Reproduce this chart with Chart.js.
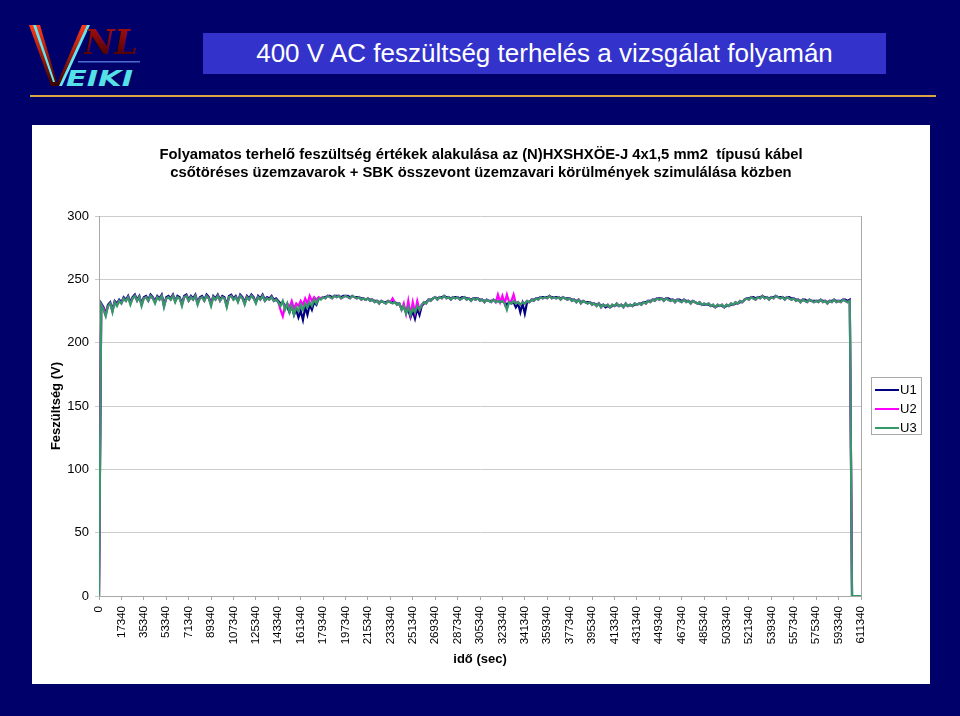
<!DOCTYPE html>
<html>
<head>
<meta charset="utf-8">
<script src="https://cdn.jsdelivr.net/npm/chart.js@4.4.0/dist/chart.umd.min.js"></script>
<style>
  html, body { margin: 0; padding: 0; }
  body {
    width: 960px; height: 716px; position: relative; overflow: hidden;
    background: #00006a;
    font-family: Arial, "Liberation Sans", sans-serif;
  }
  #logo { position: absolute; left: 0; top: 0; }
  #slideTitle {
    position: absolute; left: 203px; top: 33px; width: 683px; height: 41px;
    background: #3333cc; color: #fff; font-size: 26px; line-height: 41px; text-align: center;
  }
  #rule { position: absolute; left: 30px; top: 95px; width: 906px; height: 2px; background: #d9a443; }
  #panel { position: absolute; left: 32px; top: 125px; width: 898px; height: 559px; background: #fff; }
  #voltChart { position: absolute; left: 0; top: 0; }
  #legend {
    position: absolute; left: 839px; top: 252px; width: 49px; height: 54px;
    border: 1px solid #a8a8a8; padding-top: 2px; box-sizing: content-box;
  }
  .item { display: flex; align-items: center; height: 19px; font-size: 13px; color: #000; }
  .item span.line { display: inline-block; width: 24px; height: 2px; margin-left: 3px; margin-right: 1px; }
</style>
</head>
<body>
<svg id="logo" width="160" height="100" viewBox="0 0 160 100">
  <defs>
    <linearGradient id="redV" x1="0" y1="0" x2="0" y2="1">
      <stop offset="0" stop-color="#ff3a1a"/>
      <stop offset="1" stop-color="#3a0000"/>
    </linearGradient>
    <linearGradient id="redNL" x1="0" y1="0" x2="0" y2="1">
      <stop offset="0" stop-color="#b01010"/>
      <stop offset="1" stop-color="#3a0000"/>
    </linearGradient>
  </defs>
  <polygon points="29,25 40,25 58,86 51,86" fill="url(#redV)"/>
  <polygon points="33,25 36,25 55,82 53,82" fill="#66e8f0"/>
  <polygon points="56,86 61,86 88,25 82,25" fill="url(#redV)"/>
  <polygon points="59,86 62,86 90,25 87,25" fill="#66e8f0"/>
  <text x="84" y="54" font-family="DejaVu Serif, serif" font-weight="bold" font-style="italic" font-size="33" fill="url(#redNL)">NL</text>
  <rect x="78" y="61" width="62" height="1.5" fill="#4a6cd0"/>
  <text x="66" y="86" font-family="DejaVu Sans, sans-serif" font-weight="bold" font-style="italic" font-size="22" textLength="67" lengthAdjust="spacingAndGlyphs" fill="#55e0e8">EIKI</text>
</svg>
<div id="slideTitle">400 V AC feszültség terhelés a vizsgálat folyamán</div>
<div id="rule"></div>
<div id="panel">
  <canvas id="voltChart" width="898" height="559"></canvas>
  <div id="legend">
    <div class="item"><span class="line" style="background:#000080"></span>U1</div>
    <div class="item"><span class="line" style="background:#ff00ff"></span>U2</div>
    <div class="item"><span class="line" style="background:#339966"></span>U3</div>
  </div>
</div>
<script>
// x axis tick labels (one label every 10 samples)
const timeLabels = ['0', '17340', '35340', '53340', '71340', '89340', '107340', '125340', '143340',
  '161340', '179340', '197340', '215340', '233340', '251340', '269340', '287340', '305340',
  '323340', '341340', '359340', '377340', '395340', '413340', '431340', '449340', '467340',
  '485340', '503340', '521340', '539340', '557340', '575340', '593340', '611340'];
const samplesPerLabel = 10;

// voltage values (V)
const u1 = [
  0, 231, 228, 223, 230, 232, 226, 233, 231, 234,
  232, 236, 234, 237, 232, 236, 238, 234, 237, 231,
  236, 237, 234, 238, 236, 233, 237, 235, 238, 230,
  236, 237, 235, 238, 233, 237, 236, 231, 237, 238,
  234, 237, 235, 238, 232, 236, 237, 234, 238, 236,
  231, 237, 235, 238, 234, 237, 236, 230, 237, 238,
  235, 237, 233, 238, 236, 232, 237, 235, 238, 236,
  232, 237, 235, 238, 234, 236, 235, 237, 234, 235,
  233, 231, 232, 229, 228, 224, 229, 222, 226, 220,
  225, 218, 228, 222, 230, 226, 232, 230, 235, 235,
  236, 236, 237, 237, 236, 237, 237, 237, 236, 237,
  237, 237, 236, 237, 236, 236, 236, 235, 235, 234,
  235, 234, 234, 233, 233, 232, 233, 232, 232, 233,
  232, 232, 232, 231, 231, 227, 228, 224, 226, 220,
  225, 219, 227, 222, 229, 231, 232, 234, 234, 235,
  236, 235, 236, 236, 237, 236, 236, 235, 236, 236,
  236, 235, 236, 236, 235, 235, 234, 235, 235, 235,
  234, 234, 233, 234, 233, 233, 234, 233, 233, 232,
  233, 232, 230, 232, 231, 232, 228, 231, 224, 231,
  223, 232, 232, 234, 234, 235, 235, 236, 236, 236,
  236, 237, 236, 236, 236, 236, 235, 236, 235, 235,
  235, 234, 234, 233, 234, 232, 233, 232, 232, 232,
  231, 231, 230, 231, 229, 230, 228, 229, 228, 229,
  229, 230, 229, 230, 229, 230, 229, 230, 229, 230,
  230, 231, 231, 232, 232, 233, 233, 234, 234, 235,
  235, 235, 234, 235, 235, 234, 234, 233, 234, 234,
  233, 234, 233, 233, 232, 233, 232, 231, 231, 230,
  230, 230, 230, 229, 229, 228, 229, 229, 229, 228,
  229, 229, 230, 230, 231, 231, 232, 232, 234, 235,
  235, 236, 236, 235, 236, 236, 237, 236, 236, 235,
  236, 236, 237, 236, 236, 236, 235, 236, 236, 235,
  235, 234, 234, 233, 234, 234, 233, 234, 233, 233,
  233, 233, 234, 233, 233, 232, 233, 233, 234, 233,
  233, 233, 234, 234, 233, 234, 0, 0, 0, 0,
  0];

const u2 = [
  0, 230, 227, 222, 229, 231, 225, 232, 230, 233,
  231, 235, 233, 236, 231, 235, 237, 233, 236, 230,
  235, 236, 233, 237, 235, 232, 236, 234, 237, 229,
  235, 236, 234, 237, 233, 236, 235, 230, 236, 237,
  233, 236, 234, 237, 231, 235, 236, 233, 237, 235,
  230, 236, 234, 237, 233, 236, 235, 229, 236, 237,
  234, 236, 233, 237, 235, 231, 236, 234, 237, 235,
  232, 236, 234, 237, 233, 235, 234, 236, 233, 234,
  232, 226, 221, 229, 231, 228, 233, 227, 231, 229,
  233, 230, 235, 231, 237, 233, 236, 234, 236, 235,
  236, 235, 237, 236, 235, 237, 236, 237, 235, 236,
  237, 236, 235, 237, 236, 235, 236, 234, 235, 234,
  235, 233, 234, 232, 233, 231, 233, 232, 231, 233,
  232, 235, 232, 230, 231, 226, 231, 223, 233, 222,
  232, 224, 233, 226, 230, 232, 231, 234, 233, 235,
  236, 234, 236, 235, 237, 235, 236, 234, 236, 235,
  236, 234, 235, 236, 234, 235, 233, 235, 234, 235,
  233, 234, 232, 234, 233, 232, 234, 232, 238, 232,
  237, 231, 238, 232, 233, 238, 231, 232, 230, 232,
  231, 233, 232, 234, 233, 235, 234, 236, 235, 236,
  235, 237, 235, 236, 235, 236, 234, 236, 235, 234,
  235, 233, 234, 232, 234, 231, 233, 232, 231, 232,
  230, 231, 229, 231, 228, 230, 229, 230, 228, 230,
  229, 231, 229, 230, 228, 231, 229, 230, 229, 231,
  230, 231, 230, 232, 231, 233, 232, 234, 233, 235,
  234, 235, 233, 235, 234, 233, 234, 232, 234, 233,
  232, 234, 232, 233, 231, 233, 232, 231, 232, 230,
  231, 230, 231, 229, 230, 228, 230, 229, 230, 228,
  230, 229, 231, 230, 232, 231, 233, 232, 234, 235,
  234, 236, 235, 234, 236, 235, 237, 235, 236, 234,
  236, 235, 237, 236, 235, 236, 234, 236, 235, 234,
  235, 233, 234, 232, 234, 233, 232, 234, 233, 232,
  233, 232, 234, 232, 233, 231, 233, 232, 234, 232,
  233, 232, 234, 233, 232, 233, 0, 0, 0, 0,
  0];

const u3 = [
  0, 230, 226, 221, 229, 231, 224, 232, 229, 233,
  231, 235, 233, 236, 230, 235, 237, 233, 236, 229,
  235, 236, 233, 237, 235, 231, 236, 234, 237, 228,
  235, 236, 234, 237, 232, 236, 235, 229, 236, 237,
  233, 236, 234, 237, 230, 235, 236, 233, 237, 235,
  229, 236, 234, 237, 233, 236, 235, 228, 236, 237,
  234, 236, 232, 237, 235, 230, 236, 234, 237, 235,
  231, 236, 234, 237, 233, 235, 234, 236, 233, 234,
  232, 229, 233, 226, 231, 224, 229, 222, 228, 225,
  230, 226, 231, 228, 232, 229, 234, 231, 235, 234,
  236, 235, 237, 236, 235, 237, 236, 237, 235, 236,
  237, 236, 235, 237, 236, 235, 236, 234, 235, 234,
  235, 233, 234, 232, 233, 231, 233, 232, 231, 233,
  232, 231, 232, 230, 231, 226, 229, 223, 228, 222,
  227, 224, 229, 226, 230, 232, 231, 234, 233, 235,
  236, 234, 236, 235, 237, 235, 236, 234, 236, 235,
  236, 234, 235, 236, 234, 235, 233, 235, 234, 235,
  233, 234, 232, 234, 233, 232, 234, 232, 233, 232,
  233, 231, 226, 232, 231, 233, 231, 232, 230, 232,
  231, 233, 232, 234, 233, 235, 234, 236, 235, 236,
  235, 237, 235, 236, 235, 236, 234, 236, 235, 234,
  235, 233, 234, 232, 234, 231, 233, 232, 231, 232,
  230, 231, 229, 231, 228, 230, 229, 230, 228, 230,
  229, 231, 229, 230, 228, 231, 229, 230, 229, 231,
  230, 231, 230, 232, 231, 233, 232, 234, 233, 235,
  234, 235, 233, 235, 234, 233, 234, 232, 234, 233,
  232, 234, 232, 233, 231, 233, 232, 231, 232, 230,
  231, 230, 231, 229, 230, 228, 230, 229, 230, 228,
  230, 229, 231, 230, 232, 231, 233, 232, 234, 235,
  234, 236, 235, 234, 236, 235, 237, 235, 236, 234,
  236, 235, 237, 236, 235, 236, 234, 236, 235, 234,
  235, 233, 234, 232, 234, 233, 232, 234, 233, 232,
  233, 232, 234, 232, 233, 231, 233, 232, 234, 232,
  233, 232, 234, 233, 232, 233, 0, 0, 0, 0,
  0];

Chart.defaults.font.family = 'Arial, "Liberation Sans", sans-serif';
Chart.defaults.color = '#000';

function series(label, values, color, order) {
  return {
    label: label,
    data: values.map((v, i) => ({ x: i, y: v })),
    borderColor: color,
    backgroundColor: color,
    borderWidth: 2.2,
    pointRadius: 0,
    tension: 0,
    order: order
  };
}

// plot area frame (right edge, like the Excel plot border)
const plotFrame = {
  id: 'plotFrame',
  beforeDatasetsDraw(chart) {
    const { ctx, chartArea: a } = chart;
    ctx.save();
    ctx.strokeStyle = '#a8a8a8';
    ctx.lineWidth = 1;
    ctx.beginPath();
    ctx.moveTo(Math.round(a.right) + 0.5, a.top);
    ctx.lineTo(Math.round(a.right) + 0.5, a.bottom);
    ctx.stroke();
    ctx.restore();
  }
};

const lastIndex = (timeLabels.length - 1) * samplesPerLabel;

new Chart(document.getElementById('voltChart'), {
  type: 'line',
  data: {
    datasets: [
      series('U1', u1, '#000080', 3),
      series('U2', u2, '#ff00ff', 2),
      series('U3', u3, '#339966', 1)
    ]
  },
  plugins: [plotFrame],
  options: {
    responsive: false,
    animation: false,
    layout: { padding: 0 },
    plugins: {
      legend: { display: false },
      tooltip: { enabled: false },
      title: {
        display: true,
        text: ['Folyamatos terhelő feszültség értékek alakulása az (N)HXSHXÖE-J 4x1,5 mm2  típusú kábel',
               'csőtöréses üzemzavarok + SBK összevont üzemzavari körülmények szimulálása közben'],
        color: '#000',
        font: { size: 14.8, weight: 'bold', lineHeight: 1.22 },
        padding: { top: 21, bottom: 34 }
      }
    },
    scales: {
      x: {
        type: 'linear',
        min: 0,
        max: lastIndex,
        ticks: {
          stepSize: samplesPerLabel,
          autoSkip: false,
          minRotation: 90,
          maxRotation: 90,
          padding: 6,
          font: { size: 11.5 },
          callback: (v) => timeLabels[Math.round(v / samplesPerLabel)]
        },
        grid: { drawOnChartArea: false, drawTicks: true, tickLength: 4, color: '#a8a8a8' },
        border: { color: '#a8a8a8' },
        title: {
          display: true,
          text: 'idő (sec)',
          font: { size: 13, weight: 'bold' },
          padding: { top: 0, bottom: 17 }
        },
        afterFit: (scale) => { scale.height = 88; }
      },
      y: {
        min: 0,
        max: 300,
        ticks: { stepSize: 50, padding: 6, font: { size: 13 } },
        grid: { color: '#cccccc', tickLength: 4 },
        border: { color: '#a8a8a8' },
        title: {
          display: true,
          text: 'Feszültség (V)',
          font: { size: 13, weight: 'bold' },
          padding: { top: 17, bottom: 0 }
        },
        afterFit: (scale) => { scale.width = 67; }
      },
      // empty right-hand strip that holds the space for the legend
      ySpace: {
        position: 'right',
        min: 0,
        max: 300,
        ticks: { display: false },
        grid: { display: false, drawTicks: false },
        border: { display: false },
        afterFit: (scale) => { scale.width = 69; }
      }
    }
  }
});
</script>
</body>
</html>
